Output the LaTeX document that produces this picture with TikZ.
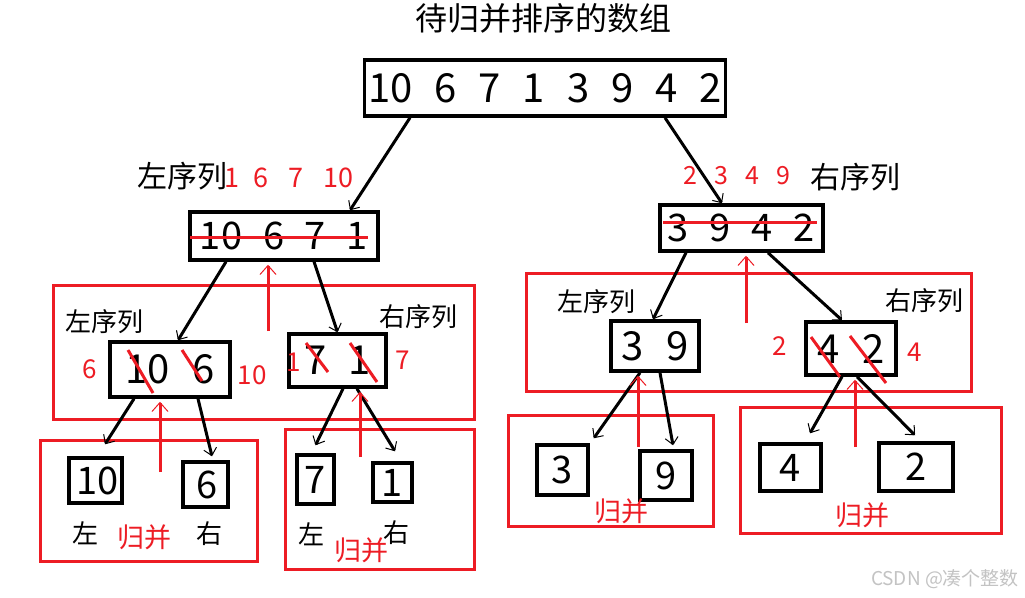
\documentclass[tikz,border=0pt]{standalone}
\usepackage{fontspec}
\setmainfont{Noto Sans CJK SC}
\usetikzlibrary{arrows.meta,calc}
\definecolor{pred}{RGB}{237,28,36}
\definecolor{wmgray}{RGB}{195,195,195}
\newcommand{\gp}{\hspace{0.55em}}
\newcommand{\fs}[1]{\fontsize{#1}{#1}\selectfont}
\begin{document}
\begin{tikzpicture}[x=1pt,y=-1pt,
  numbox/.style={draw=black, line width=3.5pt, inner sep=0pt, font=\fs{40}},
  lbl/.style={inner sep=0pt, font=\fs{30}},
  slbl/.style={inner sep=0pt, font=\fs{26}},
  rlbl/.style={inner sep=0pt, text=pred, font=\fs{26}},
  frame/.style={draw=pred, line width=3pt},
  arr/.style={draw=black, line width=3pt, -{Straight Barb[length=7pt,width=13pt,line width=1pt]}},
  rarr/.style={draw=pred, line width=3pt, -{Straight Barb[length=9pt,width=16pt,line width=1pt]}},
  strike/.style={draw=pred, line width=3pt}]
\useasboundingbox[fill=white] (0,0) rectangle (1025,597);

% red frames
\draw[frame] (53.5,285.5) rectangle (474.5,419.5);
\draw[frame] (526.5,273.5) rectangle (971.5,391.5);
\draw[frame] (40.5,440.5) rectangle (257.5,561.5);
\draw[frame] (285.5,429.5) rectangle (474.5,569.5);
\draw[frame] (508.5,415.5) rectangle (713.5,526.5);
\draw[frame] (740.5,407.5) rectangle (1001.5,533.5);

% title
\node[inner sep=0pt, font=\fs{32}] (title) at (543,18) {待归并排序的数组};

% boxes
\node[numbox, minimum width=361pt, minimum height=56pt] (top) at (545,88) {10\gp 6\gp 7\gp 1\gp 3\gp 9\gp 4\gp 2};
\node[numbox, minimum width=188pt, minimum height=48pt, font=\fs{38}] (l1l) at (284,236) {10\gp 6\gp 7\gp 1};
\node[numbox, minimum width=163pt, minimum height=46pt, font=\fs{38}] (l1r) at (741.5,228) {3\gp 9\gp 4\gp 2};
\node[numbox, minimum width=120pt, minimum height=55pt] (l2a) at (170,369.5) {10\gp 6\hspace{20pt}};
\node[numbox, minimum width=97pt, minimum height=53pt] (l2b) at (337.5,360.5) {7\gp 1\hspace{12pt}};
\node[numbox, minimum width=88pt, minimum height=50pt] (l2c) at (655,346) {3\gp 9};
\node[numbox, minimum width=90pt, minimum height=53pt] (l2d) at (851,348.5) {4\gp 2\hspace{24pt}};
\node[numbox, minimum width=53pt, minimum height=45pt, font=\fs{38}] (b10) at (95.5,480.5) {\hspace{4pt}10};
\node[numbox, minimum width=45pt, minimum height=45pt, font=\fs{38}] (b6) at (205.5,484.5) {\hspace{3pt}6};
\node[numbox, minimum width=37pt, minimum height=49pt, font=\fs{38}] (b7) at (315.5,479.5) {7\hspace{6pt}};
\node[numbox, minimum width=39pt, minimum height=39pt, font=\fs{38}] (b1) at (392.5,482.5) {1\hspace{4pt}};
\node[numbox, minimum width=51pt, minimum height=50pt, font=\fs{38}] (b3) at (562.5,470) {3\hspace{4pt}};
\node[numbox, minimum width=52pt, minimum height=49pt, font=\fs{38}] (b9) at (666,475.5) {9\hspace{8pt}};
\node[numbox, minimum width=61pt, minimum height=47pt, font=\fs{38}] (b4) at (790.5,467.5) {4\hspace{18pt}};
\node[numbox, minimum width=74pt, minimum height=48pt, font=\fs{38}] (b2) at (916,467) {2\hspace{20pt}};

% black labels
\node[lbl] (lseq1) at (182,176) {左序列};
\node[lbl] (rseq1) at (855,177) {右序列};
\node[slbl] (lseq2) at (104,322) {左序列};
\node[slbl] (rseq2) at (418,317) {右序列};
\node[slbl] (lseq3) at (596,302) {左序列};
\node[slbl] (rseq3) at (924,301) {右序列};
\node[slbl] (zA) at (85,533) {左};
\node[slbl] (yA) at (209,534) {右};
\node[slbl] (zB) at (311,534) {左};
\node[slbl] (yB) at (396,533) {右};

% red labels
\node[rlbl, font=\fs{27}] (res1) at (289,178) {1\hspace{14pt}6\hspace{20pt}7\hspace{20pt}10};
\node[rlbl, font=\fs{25}] (res2) at (737,176) {2\hspace{17pt}3\hspace{17pt}4\hspace{17pt}9};
\node[rlbl] (r6) at (90,369) {6};
\node[rlbl] (r10) at (252,375) {10};
\node[rlbl] (r1) at (294,362) {1};
\node[rlbl] (r7) at (403,360) {7};
\node[rlbl] (r2) at (780,346) {2};
\node[rlbl] (r4) at (915,352) {4};
\node[rlbl, font=\fs{27}] (gA) at (144,537) {归并};
\node[rlbl, font=\fs{27}] (gB) at (361,550) {归并};
\node[rlbl, font=\fs{27}] (gC) at (621,511) {归并};
\node[rlbl, font=\fs{27}] (gD) at (862,515) {归并};

% watermark
\node[inner sep=0pt, text=wmgray, font=\fs{19}] (wm) at (945,579) {CSDN @凑个整数};

% strike lines
\draw[strike] (190,237) -- (368,237);
\draw[strike] (663,222) -- (817,222);
\draw[strike] (128,350) -- (153,393);
\draw[strike] (182,350) -- (202,381);
\draw[strike] (306,343) -- (328,372);
\draw[strike] (350,343) -- (377,382);
\draw[strike] (811,337) -- (840,377);
\draw[strike] (850,336) -- (886,383);

% black split arrows
\draw[arr] ([xshift=-135pt]top.south) -- ([xshift=66pt]l1l.north);
\draw[arr] ([xshift=120pt]top.south) -- ([xshift=-19.5pt]l1r.north);
\draw[arr] ([xshift=-58pt]l1l.south) -- ([xshift=8pt]l2a.north);
\draw[arr] ([xshift=30pt]l1l.south) -- (l2b.north);
\draw[arr] ([xshift=-55.5pt]l1r.south) -- ([xshift=-2pt]l2c.north);
\draw[arr] ([xshift=26.5pt]l1r.south) -- ([xshift=-9pt]l2d.north);
\draw[arr] ([xshift=-36pt]l2a.south) -- ([xshift=9.5pt,yshift=12pt]b10.north);
\draw[arr] ([xshift=28pt]l2a.south) -- ([xshift=6.5pt,yshift=4pt]b6.north);
\draw[arr] ([xshift=5.5pt]l2b.south) -- ([yshift=8pt]b7.north);
\draw[arr] ([xshift=19.5pt]l2b.south) -- ([xshift=2.5pt,yshift=10pt]b1.north);
\draw[arr] ([xshift=-15pt]l2c.south) -- ([xshift=4pt,yshift=5pt]b3.north east);
\draw[arr] ([xshift=5pt]l2c.south) -- ([xshift=7pt,yshift=4pt]b9.north);
\draw[arr] ([xshift=-9pt]l2d.south) -- ([xshift=19.5pt,yshift=9pt]b4.north);
\draw[arr] ([xshift=6pt]l2d.south) -- ([xshift=-1pt,yshift=6pt]b2.north);

% red merge arrows
\coordinate (m1) at (268,331);
\coordinate (m2) at (746,323);
\coordinate (m3) at (160,472);
\coordinate (m4) at (360,457);
\coordinate (m5) at (638,447);
\coordinate (m6) at (855,447);
\draw[rarr] (m1) -- ($(m1 |- l1l.south)+(0,3)$);
\draw[rarr] (m2) -- ($(m2 |- l1r.south)+(0,3)$);
\draw[rarr] (m3) -- ($(m3 |- l2a.south)+(0,3)$);
\draw[rarr] (m4) -- ($(m4 |- l2b.south)+(0,3)$);
\draw[rarr] (m5) -- ($(m5 |- l2c.south)+(0,3)$);
\draw[rarr] (m6) -- ($(m6 |- l2d.south)+(0,3)$);
\end{tikzpicture}
\end{document}
